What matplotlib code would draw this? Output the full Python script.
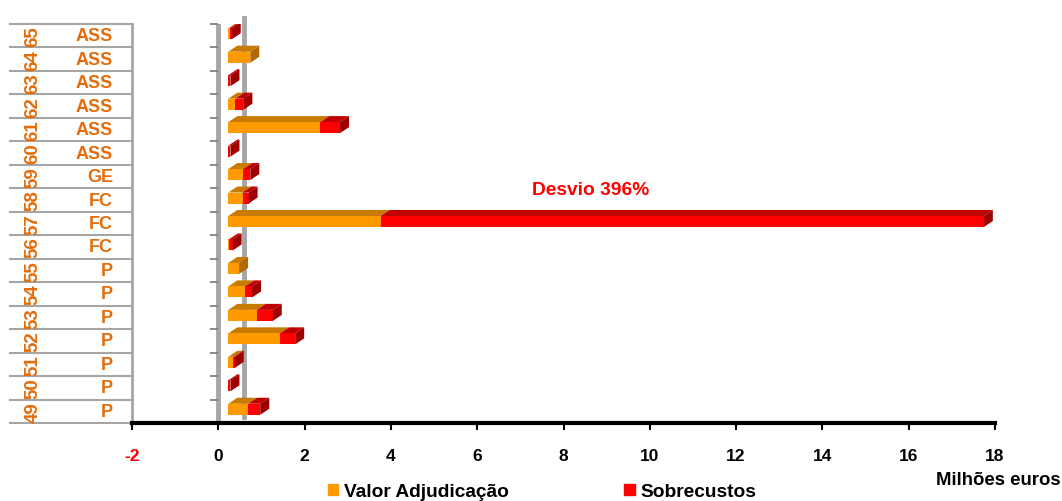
import numpy as np
import matplotlib
matplotlib.use("Agg")
import matplotlib.pyplot as plt
import matplotlib.transforms as mtransforms
from matplotlib.patches import Polygon, Patch

plt.rcParams['font.family'] = ['Liberation Sans', 'DejaVu Sans']
plt.rcParams['font.weight'] = 'bold'

# data, bottom row first (49 -> 65)
codes = ['49', '50', '51', '52', '53', '54', '55', '56', '57',
         '58', '59', '60', '61', '62', '63', '64', '65']
groups = ['P', 'P', 'P', 'P', 'P', 'P', 'P', 'FC', 'FC',
          'FC', 'GE', 'ASS', 'ASS', 'ASS', 'ASS', 'ASS', 'ASS']
valor_adj = [0.46, 0.00, 0.12, 1.20, 0.66, 0.39, 0.25, 0.02, 3.53,
             0.33, 0.35, 0.00, 2.13, 0.16, 0.00, 0.51, 0.03]
sobrecustos = [0.28, 0.05, 0.03, 0.35, 0.37, 0.16, 0.00, 0.08, 13.98,
               0.14, 0.16, 0.05, 0.46, 0.19, 0.05, 0.00, 0.05]
xticks = [-2, 0, 2, 4, 6, 8, 10, 12, 14, 16, 18]
note = 'Desvio 396%'

orange = '#FF9900'
orange_top = '#C97A00'
orange_side = '#B06A00'
red = '#FF0000'
red_top = '#C00000'
red_side = '#9E0000'
label_col = '#E46C0A'
grey = '#A6A6A6'

fig = plt.figure(figsize=(10.62, 5.02), dpi=100)
ax = fig.add_axes([132 / 1062, 1 - 424 / 502, (995 - 132) / 1062, (424 - 25) / 502])
n = len(codes)
ypos = np.arange(n)
ax.set_xlim(-2, 18)
ax.set_ylim(-0.5, n - 0.5)

# 3D depth, converted from pixels to data units
px_x = (995 - 132) / 20.0
px_y = (424 - 25) / float(n)
dx = 9 / px_x
dy = 6 / px_y
h = 0.47
front = mtransforms.offset_copy(ax.transData, fig=fig, x=10, y=2, units='dots')

va = np.array(valor_adj)
sc = np.array(sobrecustos)

def box(x0, x1, y, c_front, c_top, c_side, side):
    yb, yt = y - h / 2, y + h / 2
    ax.add_patch(Polygon([(x0, yt), (x1, yt), (x1 + dx, yt + dy), (x0 + dx, yt + dy)],
                         closed=True, fc=c_top, ec='none', transform=front, zorder=3))
    ax.barh(y, x1 - x0, left=x0, height=h, color=c_front, transform=front, zorder=4)
    if side:
        ax.add_patch(Polygon([(x1, yb), (x1, yt), (x1 + dx, yt + dy), (x1 + dx, yb + dy)],
                             closed=True, fc=c_side, ec='none', transform=front, zorder=5))

for i in range(n):
    if va[i] > 0:
        box(0, va[i], ypos[i], orange, orange_top, orange_side, sc[i] == 0)
    if sc[i] > 0:
        box(va[i], va[i] + sc[i], ypos[i], red, red_top, red_side, True)

# walls
ax.axvline(0, color=grey, lw=3.5, zorder=2)
back = mtransforms.offset_copy(ax.transData, fig=fig, x=26, y=6, units='dots')
ax.plot([0, 0], [-0.5, n - 0.5], color=grey, lw=3.5, transform=back, zorder=1, clip_on=False)
ax.plot(np.zeros(n + 1), np.arange(n + 1) - 0.5, ls='none', marker=0, ms=6,
        mew=1.3, color='#808080', clip_on=False, zorder=2)

# spines and ticks
for s in ['top', 'right']:
    ax.spines[s].set_visible(False)
ax.spines['left'].set_color(grey)
ax.spines['left'].set_linewidth(2)
ax.spines['bottom'].set_color('black')
ax.spines['bottom'].set_linewidth(3)
ax.set_yticks([])
ax.set_xticks(xticks)
ax.set_xticklabels([str(t) for t in xticks])
ax.tick_params(axis='x', length=5, width=1.5, pad=13, labelsize=12.5)
for lab in ax.get_xticklabels():
    lab.set_fontweight('bold')
ax.get_xticklabels()[0].set_color('red')

# category table on the left
blend = mtransforms.blended_transform_factory(fig.transFigure, ax.transData)
for b in np.arange(n + 1) - 0.5:
    ax.plot([10 / 1062, 132 / 1062], [b, b], color=grey, lw=1.5,
            transform=blend, clip_on=False)
for i in range(n):
    ax.text(113 / 1062, ypos[i], groups[i], transform=blend, ha='right', va='center',
            fontsize=13, fontweight='bold', color=label_col)
    ax.text(33 / 1062, ypos[i], codes[i], transform=blend, ha='center', va='center',
            rotation=90, fontsize=13.5, fontweight='bold', color=label_col)

ax.text(8.64, 9.43, note, ha='center', va='center', fontsize=13.8,
        fontweight='bold', color='red')

fig.text(1061 / 1062, 1 - 481 / 502, 'Milhões euros', ha='right', va='center',
         fontsize=13.4, fontweight='bold')

handles = [Patch(color=orange, label='Valor Adjudicação'),
           Patch(color=red, label='Sobrecustos')]
fig.legend(handles=handles, loc='center', bbox_to_anchor=(542 / 1062, 1 - 493 / 502),
           ncol=2, frameon=False, handlelength=0.55, handleheight=0.55,
           handletextpad=0.3, columnspacing=6.0, borderpad=0, borderaxespad=0,
           prop={'weight': 'bold', 'size': 13.8})

fig.savefig('out.png', dpi=100)
